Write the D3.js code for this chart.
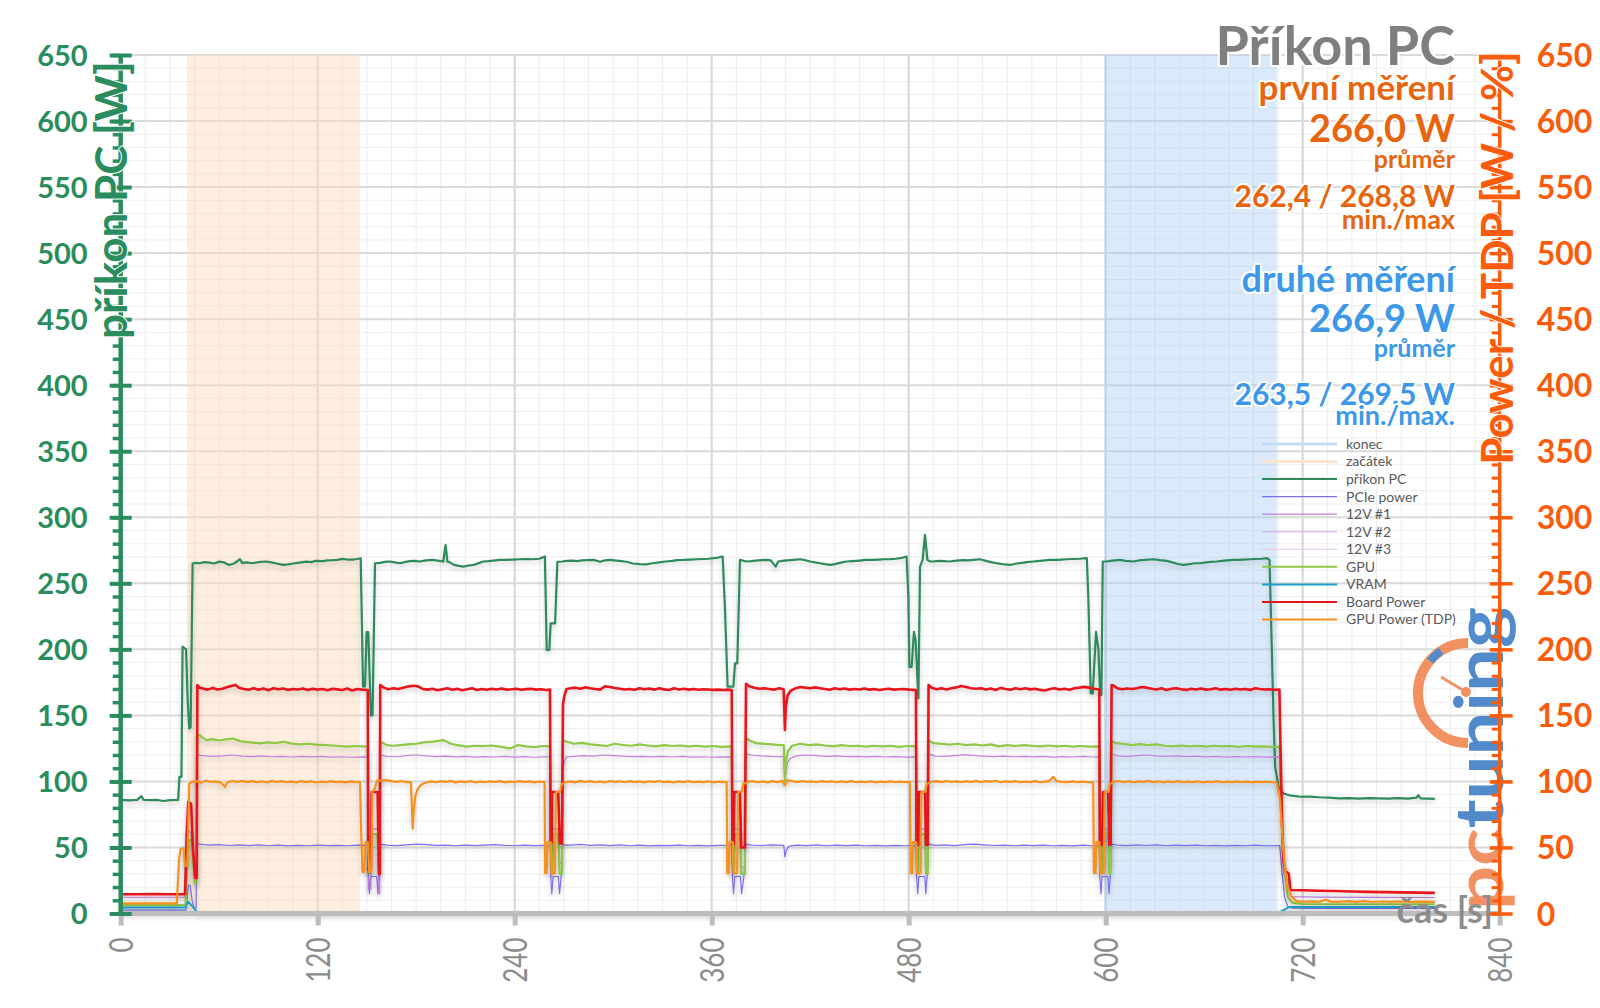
<!DOCTYPE html>
<html lang="cs">
<head>
<meta charset="UTF-8">
<title>Příkon PC</title>
<script src="https://cdn.jsdelivr.net/npm/d3@7"></script>
<style>
    body { margin: 0; background: #ffffff; }
    svg { font-family: Lato, "Open Sans", sans-serif; }
    .halo { paint-order: stroke; stroke: #ffffff; stroke-width: 4px; stroke-linejoin: round; }
</style>
</head>
<body>
<div id="main"></div>
<script>
// ---- data (time [s], value [W]) ----
const xTicks = [0, 120, 240, 360, 480, 600, 720, 840];
const yTicks = [0, 50, 100, 150, 200, 250, 300, 350, 400, 450, 500, 550, 600, 650];

const zacatek = [40.4, 145.8];   // first measurement window
const konec = [599, 704.3];      // second measurement window

const prikonPC = [
    [0,86],[5,85.6],[10,86],[12.5,88.8],[14,86],[18,85.8],[22,86],[26,85.2],[30,85.8],[35,86],[35.8,103.5],[37,103.5],[37.7,202],[39.8,200],[40.8,161],[41.8,140],[42.6,141],[43.8,265],
    [46,265.5],[48,265.2],[51,266],[54,265.7],[57,265],[60,266.4],[63,265.8],[66,263.9],[69,265],[72.7,268.2],[74,265.5],[77,265.8],[80,265.2],[84,266],[88,266.5],[91,266],[95,265],[99,263.9],[102,264.3],[106,265.2],[109,265.7],[113,266.4],[116,266],[119,267],[123,266.8],[126,267.4],[129,267.5],[132,267.8],[135,268.5],[138,268],[142,268],[144,268.4],[146.2,269],
    [147.6,171.7],[148.8,172],[149.8,213],[150.8,213],[152.4,150],[153.4,150],[154.9,265.2],
    [158,265.5],[161,266.2],[164,266.5],[167,265.8],[170,265.2],[173,266],[176,266.8],[179,267],[182,266.5],[186,267.4],[190,267.7],[193,267.2],[196.5,266.5],[197.9,279],[199,266.5],[201,265.5],[203,263.9],[206,263.2],[208.7,262.6],[212,263.5],[215,263.9],[218,265.3],[221,266.5],[224,266.8],[227,267.2],[231,267.7],[235,267.8],[239,268],[243,268.2],[247,268.4],[251,268.2],[255,268.6],[258.4,270.3],
    [259.5,199.5],[261.1,199.5],[261.9,219.6],[264.6,219.6],[266,266.3],
    [269,266.5],[272,267],[275,267.2],[278,266.8],[281,267.3],[284,267.5],[288,267.7],[292,266.3],[295,267.4],[298,267.7],[302,267.2],[305,266.8],[308,266.3],[312,265],[316,264.5],[320,264.4],[324,265.2],[328,265.8],[332,266.5],[336,267],[339,267.6],[343,267.7],[347,268],[351,268.2],[355,268.4],[358,268.6],[361,269],[364,269.5],[366.7,270.3],
    [368.1,230],[369.7,171.7],[373.2,171.7],[374.2,189.4],[375.6,189.4],[377.2,267.7],
    [381,266.5],[384,266.8],[387,267.2],[390,267.5],[393.5,267.7],[396,267.3],[399,262.6],[400.5,266.5],[403,267],[406,267.3],[409.7,267.7],[413.8,268.2],[417,267.5],[420,266.5],[423,265.8],[426,265.2],[429,264.5],[432,263.9],[435,264.5],[438,265.5],[442,266.5],[446,266.8],[450,267.2],[454,267.7],[458,267.8],[462,268],[465,268.2],[469,268.3],[472,268.6],[475,269],[478.7,270.3],
    [479.8,240],[480.4,186.7],[481.8,186.7],[483.2,213.3],[484.2,207],[485.9,162.8],[486.9,262.6],[488.5,267.7],[489.9,286.6],[491.4,267.7],[493,266.5],[495,266.5],
    [498,267],[501,266.8],[505,266.5],[509,267.2],[513,267.5],[516,267.3],[519.4,267.7],[523.5,268.2],[527,267],[530,266],[533.6,265.2],[537,264.5],[541.8,263.9],[545,264.8],[549,265.5],[552,266],[556,266.5],[560,267],[563,267.4],[566,267.7],[570,267.8],[573,268],[576,268.2],[580,268.4],[584,268.6],[588.5,269],
    [589.4,240],[590.9,166.7],[592.1,166.7],[594.1,213.3],[595.6,199.5],[596.6,165.5],[597.4,165.5],[598.2,266.5],
    [600.6,266.5],[604,267.2],[608.8,267.7],[612,267],[616.9,266.5],[620,267.3],[624,267.8],[629.1,268.2],[633,267.5],[637.2,267],[640,266],[644,264.6],[647.4,263.9],[651,264.5],[654,265.2],[657.5,265.2],[661,265.8],[664,266.2],[667.7,266.5],[671,267],[674,267.3],[677.8,267.7],[681,267.8],[684,268],[688,268.2],[691,268.4],[695,268.6],[698.2,269],[699.8,267.7],
    [701.2,199.5],[702.2,148.9],[703.2,111],[705.3,95.9],[708.3,90.9],[712,89.5],[718.5,88.4],[724,88.5],[730,88],[736,87.8],[742,87.2],[748,87.4],[754,87],[760,87.3],[766,87.1],[772,87],[778,87.3],[784,87],[789.4,87.7],[790.4,89.6],[791.8,87.1],[796,87],[800.5,86.8]
];

const boardPower = [
    [0,14.6],[10,14.6],[20,14.7],[30,14.6],[39.2,14.6],[40.2,60],[41.2,84.6],[42.9,83],[44,50],[45.3,27],[46.3,27],[46.7,173],
    [48,171],[50,170.4],[53,169.5],[56,170.8],[59,169.6],[62,170.2],[65,171.5],[68,172.5],[70,173],[72,171],[75,170],[78,169.4],[81,170.6],[84,169.5],[87,170.3],[90,169],[93,170.5],[96,169.8],[99,170.4],[102,169.3],[105,170],[108,169.6],[111,170.4],[114,169.2],[117,170.1],[120,169.5],[123,170],[126,169],[129,170.2],[132,169.7],[135,169.2],[138,170.3],[141,168.8],[144,170],[147,169.5],[150.5,169.2],
    [150.8,33],[152.4,33],[152.9,92],[156.5,92],[157.3,30],[157.8,30],[158.1,173],
    [160,171.2],[163,169.8],[166,170.5],[169,170],[172,171],[175,171.8],[178,172.5],[181,172],[184,170],[187,169.5],[190,170.2],[193,169],[196,169.8],[199,170.6],[202,169.4],[205,170.2],[208,169],[211,169.8],[214,170.5],[217,169.2],[220,170],[223,169.4],[226,170.2],[229,169.6],[232,170.4],[235,169.5],[238,169.8],[241,170.2],[244,169.4],[247,169.9],[250,170.1],[253,169.5],[256,169.8],[259,169.2],[261.5,169.5],
    [261.9,54],[262.5,54],[262.8,92],[266.5,92],[267.5,53],[268.8,53],[269.4,158],[270.3,165],[271.6,170],
    [274,170.5],[277,171],[280,170.2],[283,171.3],[286,170.5],[289,170],[292,169.5],[295,172],[298,171.5],[301,170.8],[304,170.2],[307,169.6],[310,170],[313,169.4],[316,170.6],[319,169.8],[322,170.4],[325,169.5],[328,170.6],[331,169.7],[334,169.2],[337,170.5],[340,169.6],[343,170.2],[346,169.5],[349,170],[352,169.4],[355,169.8],[358,169.6],[361,169.3],[364,169.5],[367,169.2],[370,169.5],[372.2,169.2],
    [372.6,52],[373.4,52],[373.8,92],[377.2,92],[378,50],[380.2,50],[380.9,174],
    [383,172],[386,171],[389,170.2],[392,170.5],[395,170],[398,169.4],[401,170.5],[403.8,169.8],[404.3,152],[404.6,139],[405.1,156],[406.2,165],[408,168.5],[411,170.5],[414,171.5],[417,171],[420,170.6],[423,171.2],[426,170.5],[429,170],[432,169.4],[435,170.5],[438,169.8],[441,170.3],[444,169.5],[447,170],[450,169.6],[453,170.4],[456,169.5],[459,170],[462,169.2],[465,169.8],[468,170.2],[471,169.5],[474,169.8],[477,170],[480,169.5],[484.4,169.2],
    [484.8,52],[485.8,52],[486.2,92],[490,92],[490.5,52],[491.6,52],[492.1,173],
    [494,171],[497,169.8],[500,170.5],[503,169.6],[506,170.6],[509,171.2],[512,172.3],[515,171.5],[518,170.6],[521,170.2],[524,170.5],[527,169.6],[530,170.4],[533,169.2],[536,170.8],[539,170],[542,169.4],[545,170.5],[548,169.8],[551,170.6],[554,169.7],[557,170.2],[560,169.3],[563,168.8],[566,170],[569,170.5],[572,169.6],[575,170.2],[578,169.4],[581,170.5],[584,171],[587,171.6],[590,171],[593,170.2],[596.1,169.6],
    [596.4,52],[597.8,52],[598.4,92],[601.5,92],[602.2,52],[603,52],[603.6,173],
    [605,172.5],[607,170.5],[610,169.8],[613,170.4],[616,170],[619,170.6],[622,171.5],[625,171],[628,170.2],[631,169.6],[634,170.5],[637,169.2],[640,170.2],[643,170.6],[646,169.8],[649,169.3],[652,170.2],[655,169.6],[658,170.4],[661,169.5],[664,169.8],[667,170.6],[670,169.5],[673,170],[676,169.4],[679,170.2],[682,169.6],[685,170],[688,169.3],[691,170.5],[694,170],[697,169.6],[700,169.8],[703,169.4],[705.8,169.6],
    [706.5,125],[707.5,65],[708.3,40.4],[709.5,32],[711.5,30.3],[712.5,17.8],[720,17.6],[730,17.2],[740,17],[750,16.7],[760,16.4],[770,16.2],[780,16],[790,15.8],[800.5,15.6]
];

const gpuPowerTdp = [
    [0,7.6],[10,7.6],[20,7.7],[30,7.6],[34.2,7.6],[35.5,40],[36.5,49.2],[38.2,49.2],[39.2,36],[40.5,36],[41.8,98.5],
    [43,99.5],[46,100.2],[49,99],[52,100.5],[55,99.6],[58,100],[61,99.2],[63.5,95.9],[65,99.5],[68,100.3],[71,99.6],[74,100.4],[77,99.5],[80,100.2],[83,99.4],[86,100.1],[89,99.3],[92,100.4],[95,99.6],[98,100.2],[101,99.4],[104,100],[107,99.2],[110,100.3],[113,99.5],[116,100.1],[119,99.2],[122,99.8],[125,99.4],[128,100.2],[131,99.5],[134,99.8],[137,99.3],[140,100],[143,99.5],[145.8,99.5],
    [146.5,60],[147.3,31.5],[148.3,31.5],[149.2,54],[150.6,54],[151.3,31.5],[152.6,31.5],[153.3,92],[155,95],[156,100.5],
    [159,100.8],[162,101],[165,100.2],[168,99.6],[171,100.3],[174,99.5],[176.8,99.4],[177.4,80],[177.9,64.4],[178.5,78],[179.5,89],[181,94.5],[183,97.5],[186,99.2],[189,100],[192,99.4],[195,100.2],[198,99.6],[201,100.4],[204,99.3],[207,100],[210,99.5],[213,100.3],[216,99.2],[219,99.8],[222,99.4],[225,100.1],[228,99.6],[231,100.2],[234,99.3],[237,99.9],[240,99.5],[243,100.2],[246,99.6],[249,100],[252,99.3],[255,99.8],[258.2,99.5],
    [258.5,30.5],[259.5,30.5],[259.9,54],[261.9,54],[262.4,30.5],[264.5,30.5],[265.1,92],[267.6,92],[268.6,97.8],
    [271,99.5],[274,100],[277,99.3],[280,100.4],[283,99.6],[286,100.2],[289,99.4],[292,100],[295,99.2],[298,100.3],[301,99.6],[304,100.1],[307,99.4],[310,100.2],[313,99.5],[316,100],[319,99.3],[322,100.1],[325,99.6],[328,100.3],[331,99.5],[334,99.9],[337,99.2],[340,100],[343,99.5],[346,100.2],[349,99.4],[352,99.9],[355,99.5],[358,100.1],[361,99.3],[364,99.8],[367,99.5],[369.1,99.4],
    [369.5,30.5],[370.5,30.5],[370.9,54],[372.9,54],[373.4,30.5],[375.5,30.5],[376.1,92],[378.2,92],[379.2,98],
    [382,99.6],[385,100.2],[388,99.4],[391,100],[394,99.3],[397,100.2],[400,99.5],[403,100.4],[404.6,97],[406,101],[409,100.2],[412,99.5],[415,100.3],[418,99.6],[421,100],[424,99.4],[427,100.2],[430,99.6],[433,100.1],[436,99.4],[439,100],[442,99.5],[445,100.2],[448,99.4],[451,99.9],[454,99.5],[457,100.1],[460,99.3],[463,99.8],[466,99.5],[469,100],[472,99.4],[475,99.8],[478,99.5],[480.8,99.4],
    [481.2,30.5],[482.2,30.5],[482.6,54],[484.6,54],[485.1,30.5],[487.2,30.5],[487.8,92],[490,92],[491,98],
    [494,99.8],[497,100.2],[500,99.5],[503,100.3],[506,99.6],[509,100],[512,99.4],[515,100.2],[518,99.6],[521,100.4],[524,99.5],[527,100.2],[530,99.8],[533,100.5],[536,99.4],[539,100],[542,99.6],[545,100.2],[548,99.4],[551,99.8],[554,99.5],[557,100.2],[560,99.4],[563,99.9],[565.5,100.2],[568,103.5],[570,100.4],[573,99.6],[577,99.5],[580,100],[583,99.4],[586,99.8],[589,99.5],[592.4,99.4],
    [592.8,30.5],[593.8,30.5],[594.2,54],[596.2,54],[596.7,30.5],[598.8,30.5],[599.4,92],[601.5,92],[602.5,98],
    [605,99.6],[608,100.3],[611,99.5],[614,100.2],[617,99.4],[620,100],[623,99.6],[626,100.4],[629,99.5],[632,100.1],[635,99.3],[638,100],[641,99.5],[644,100.2],[647,99.4],[650,99.9],[653,99.5],[656,100.1],[659,99.3],[662,99.8],[665,99.5],[668,100.2],[671,99.4],[674,99.9],[677,99.5],[680,100],[683,99.4],[686,99.8],[689,99.3],[692,99.9],[695,99.5],[698,99.8],[701,99.4],[704.1,99.3],
    [706.2,86],[708.2,48],[710.2,22.7],[713.3,12.6],[716,9.6],[720,8.9],[725,9.2],[730,8.8],[734,10.4],[737,9],[742,8.8],[748,9.3],[752,8.8],[758,9.4],[762,8.7],[768,9.1],[774,8.8],[780,9.2],[786,8.8],[792,9],[800.5,8.8]
];

const gpuCore = [
    [0,6.3],[20,6.3],[39.5,6.3],[40.4,30],[41.3,55.5],[43,55.5],[44.5,35],[45.3,22.7],[45.9,22.7],[46.6,135],
    [48.3,135],[50,133],[52.4,131.3],[56,132],[60,131],[64,131.8],[68.6,132.5],[72.7,130.5],[76,130],[80,129.4],[84.8,128.8],[89,129.5],[94,129],[99.1,130],[104,128.6],[109.2,128],[114,128.5],[119,127.8],[125.4,127.5],[131,127],[137.6,126.3],[143,126.8],[150.5,126.3],
    [150.9,55],[151.7,30],[152.9,60],[156.4,60],[157.2,30],[157.8,30],[158.2,130],
    [162,127.5],[166,127],[170.1,127.5],[175,128],[180,128.5],[185,129.5],[190.4,130.1],[196.5,131.3],[201,128.5],[205,127.5],[210.8,126.3],[216,127],[221,126.8],[226,127.2],[231,126.3],[237.1,125],[242,127.5],[247,126.5],[252,126],[257,126.8],[261.5,126.5],
    [261.9,53],[263,30],[263.4,60],[266.4,60],[267.4,30],[268.9,30],[269.4,131],
    [272,130],[276,128.5],[281,129.2],[286,128],[291,127.5],[296,126.8],[301,128.5],[306,127.6],[311,127],[316,128],[321,127.2],[326,126.5],[331,127.5],[336,126.8],[341,127.2],[346,126.5],[351,127],[356,126.4],[361,126.8],[366,126.2],[372.2,126.5],
    [372.6,53],[373.6,30],[374,60],[377.2,60],[378,30],[380.2,30],[380.9,133],
    [383,131],[387,129],[392,128.5],[397,128],[401,127.5],[403.9,127.5],[404.6,99.7],[405.2,115],[406.5,123],[409,127],[414,128.5],[419,127.5],[424,128],[429,127.2],[434,126.5],[439,127.5],[444,126.8],[449,127],[454,126.3],[459,127],[464,126.5],[469,127],[474,126.2],[479,126.8],[484.4,126.5],
    [484.8,53],[485.8,30],[486.2,60],[490,60],[490.5,30],[491.6,30],[492.1,131],
    [495,129],[500,128.5],[505,127.8],[510,128.5],[515,127.5],[520,128],[525,127.2],[530,128],[535,126.5],[540,127.5],[545,126.8],[550,127.5],[555,127],[560,126.5],[565,127.2],[570,126.5],[575,127],[580,126.4],[585,126.8],[590,126.4],[596.1,126.5],
    [596.4,53],[597.8,30],[598.4,60],[601.5,60],[602.2,30],[603,30],[603.6,131],
    [606,129],[611,128.5],[616,127.5],[621,128.2],[626,127.5],[631,128],[636,127],[641,126.5],[646,127.2],[651,126.5],[656,127],[661,126.3],[666,127],[671,126.5],[676,126.8],[681,126.2],[686,126.8],[691,126.3],[696,126.6],[701,126.2],[706,126.2],
    [707.5,70],[709,30],[711,12],[714,8],[720,7.2],[740,7],[760,7],[780,7],[800.5,7]
];

const v12_1 = [
    [0,12.3],[20,12.3],[39.2,12.3],[40.2,45],[41.2,63],[42.9,61],[44,40],[45.3,23],[46.3,23],[46.7,120],
    [50,119.5],[56,119],[62,119.4],[68,120],[74,119.2],[80,118.8],[86,119.3],[92,118.7],[98,119],[104,118.5],[110,119],[116,118.6],[122,118.9],[128,118.4],[134,118.7],[140,118.3],[146,118.6],[150.5,118.4],
    [150.8,18],[152.4,18],[152.9,64],[156.5,64],[157.3,15],[157.8,15],[158.1,120],
    [162,119],[168,118.7],[174,119.5],[180,120.2],[186,119.4],[192,118.8],[198,119.2],[204,118.6],[210,118.9],[216,118.4],[222,118.8],[228,118.5],[234,118.9],[240,118.4],[246,118.8],[252,118.3],[258,118.6],[261.5,118.5],
    [261.9,38],[262.5,38],[262.8,64],[266.5,64],[267.5,38],[268.8,38],[269.4,110],[270.3,115],[271.6,118.5],
    [276,119],[282,119.5],[288,119.2],[294,120],[300,119.6],[306,119.2],[312,118.8],[318,119],[324,118.6],[330,119],[336,118.5],[342,118.9],[348,118.4],[354,118.7],[360,118.3],[366,118.6],[372.2,118.4],
    [372.6,37],[373.4,37],[373.8,64],[377.2,64],[378,35],[380.2,35],[380.9,121],
    [384,120],[390,119.4],[396,119],[403.8,118.8],[404.6,100],[406,114],[408,117.5],[412,119.5],[418,120],[424,119.5],[430,119],[436,119.3],[442,118.8],[448,119],[454,118.6],[460,118.9],[466,118.5],[472,118.8],[478,118.4],[484.4,118.6],
    [484.8,37],[485.8,37],[486.2,64],[490,64],[490.5,37],[491.6,37],[492.1,121],
    [496,119.2],[502,119],[508,119.6],[514,120.3],[520,119.6],[526,119.2],[532,118.8],[538,119.1],[544,118.7],[550,119],[556,118.6],[562,118.9],[568,118.4],[574,118.8],[580,118.5],[586,118.9],[592,118.5],[596.1,118.6],
    [596.4,37],[597.8,37],[598.4,64],[601.5,64],[602.2,37],[603,37],[603.6,121],
    [607,119.4],[613,119],[619,119.6],[625,120],[631,119.4],[637,119],[643,119.3],[649,118.8],[655,119.1],[661,118.6],[667,118.9],[673,118.4],[679,118.8],[685,118.5],[691,118.8],[697,118.4],[703,118.6],[705.8,118.4],
    [706.5,90],[707.5,48],[708.3,30],[711.5,24],[712.5,12.8],[730,12.4],[760,12.2],[800.5,12.1]
];

const v12_2 = [[0,0.3],[400,0.3],[800.5,0.3]];
const v12_3 = [[0,0.2],[400,0.2],[800.5,0.2]];

const pciePower = [
    [0,2.6],[20,2.6],[39.7,2.6],[41.2,21.4],[42.3,21.4],[43.5,10],[44.7,4],[45.9,4],[46.4,53],
    [48,52.5],[54,51.8],[60,52.2],[66,51.5],[72,52],[78,51.4],[84,51.9],[90,51.3],[96,51.7],[102,51.2],[108,51.6],[114,51.3],[120,51.8],[126,51.4],[132,51.6],[138,51.3],[144,51.8],[150.5,51.6],
    [150.9,28],[151.5,15],[152.2,28],[156,28],[156.7,15],[157.4,28],[158.1,52.5],
    [162,51.8],[168,51.4],[174,52],[180,52.6],[186,52.2],[192,51.6],[198,51.8],[204,51.3],[210,51.7],[216,51.4],[222,51.8],[228,52.2],[234,51.6],[240,51.3],[246,51.8],[252,51.4],[258,51.6],[261.7,51.5],
    [262,28],[262.6,15],[263.4,28],[266.6,28],[267.3,15],[268.3,28],[269.3,52],
    [274,51.8],[280,52.3],[286,51.6],[292,52],[298,51.4],[304,51.9],[310,51.3],[316,51.7],[322,51.2],[328,51.6],[334,51.4],[340,51.8],[346,51.3],[352,51.6],[358,51.2],[364,51.6],[372.3,51.5],
    [372.6,28],[373.3,15],[374,28],[377.5,28],[378.2,15],[379.6,28],[380.9,52.5],
    [384,51.8],[390,51.5],[396,51.9],[403.9,51.6],[404.6,42.9],[405.5,48],[407,51],[412,51.8],[418,51.4],[424,51.9],[430,51.3],[436,51.7],[442,51.4],[448,51.8],[454,51.3],[460,51.6],[466,51.2],[472,51.6],[478,51.3],[484.4,51.5],
    [484.8,28],[485.5,15],[486.2,28],[489.8,28],[490.4,15],[491.2,28],[492.1,52.5],
    [496,51.6],[502,52],[508,51.4],[514,52.1],[520,52.6],[526,52],[532,51.5],[538,51.8],[544,51.3],[550,51.7],[556,51.4],[562,51.8],[568,51.3],[574,51.6],[580,51.2],[586,51.7],[592,51.3],[596.1,51.5],
    [596.4,28],[597.1,15],[597.8,28],[601.4,28],[602,15],[602.8,28],[603.6,52.5],
    [607,51.8],[613,51.4],[619,52],[625,51.5],[631,51.9],[637,51.3],[643,51.7],[649,51.4],[655,51.8],[661,51.3],[667,51.6],[673,51.2],[679,51.6],[685,51.3],[691,51.7],[697,51.3],[703,51.5],[706,51.4],
    [707.5,30],[709,12],[711,5],[714,4],[730,3.8],[760,3.8],[800.5,3.8]
];

const vram = [[0,4.6],[39.5,4.6],[41,9],[44,5],[46.5,1],[706,1],[709,3],[712,5],[800.5,5]];

// legend labels
const legendNames = ['konec', 'začátek', 'příkon PC', 'PCIe power', '12V #1', '12V #2', '12V #3', 'GPU', 'VRAM', 'Board Power', 'GPU Power (TDP)'];

// annotation texts
const titleText = 'Příkon PC';
const firstRun = ['první měření', '266,0 W', 'průměr', '262,4 / 268,8 W', 'min./max'];
const secondRun = ['druhé měření', '266,9 W', 'průměr', '263,5 / 269,5 W', 'min./max.'];

// ---- drawing ----
const W = 1600, H = 1008;
const GREEN = '#2b8c5e', ORANGE_AX = '#fa5c0c', TXT_OR = '#e8650f', TXT_BL = '#3d98ea', GRAY = '#8c8c8c';

const svg = d3.select('#main').append('svg').attr('width', W).attr('height', H);

const x = d3.scaleLinear().domain([0, 840]).range([120.7, 1499.7]);
const y = d3.scaleLinear().domain([0, 650]).range([913.5, 55]);

svg.append('defs').append('filter')
    .attr('id', 'shadow').attr('filterUnits', 'userSpaceOnUse')
    .attr('x', 0).attr('y', 0).attr('width', W).attr('height', H)
    .append('feDropShadow')
    .attr('dx', 0).attr('dy', 3).attr('stdDeviation', 2.5)
    .attr('flood-color', '#000').attr('flood-opacity', 0.2);

// grid
const grid = svg.append('g');
const minorX = d3.range(0, 841, 15).filter(t => t % 120 !== 0);
const minorY = d3.range(0, 651, 10).filter(v => v % 50 !== 0);

grid.selectAll('.vmin').data(minorX).join('line')
    .attr('x1', d => x(d)).attr('x2', d => x(d)).attr('y1', y(650)).attr('y2', y(0))
    .attr('stroke', '#ececec').attr('stroke-width', 1);
grid.selectAll('.hmin').data(minorY).join('line')
    .attr('y1', d => y(d)).attr('y2', d => y(d)).attr('x1', x(0)).attr('x2', x(840))
    .attr('stroke', '#eeeeee').attr('stroke-width', 1);
grid.selectAll('.vmaj').data(xTicks).join('line')
    .attr('x1', d => x(d)).attr('x2', d => x(d)).attr('y1', y(650)).attr('y2', y(0))
    .attr('stroke', '#d6d6d6').attr('stroke-width', 2);
grid.selectAll('.hmaj').data(yTicks).join('line')
    .attr('y1', d => y(d)).attr('y2', d => y(d)).attr('x1', x(0)).attr('x2', x(840))
    .attr('stroke', '#dadada').attr('stroke-width', 2);

// measurement windows
svg.append('rect')
    .attr('x', x(zacatek[0])).attr('width', x(zacatek[1]) - x(zacatek[0]))
    .attr('y', y(650)).attr('height', y(0) - y(650))
    .attr('fill', '#fbd9b8').attr('opacity', 0.45);
svg.append('rect')
    .attr('x', x(konec[0])).attr('width', x(konec[1]) - x(konec[0]))
    .attr('y', y(650)).attr('height', y(0) - y(650))
    .attr('fill', '#a9cdf2').attr('opacity', 0.42);

// logo watermark
const logo = svg.append('g').attr('opacity', 0.85);
logo.append('path')
    .attr('d', 'M1468,643 A50,50 0 0 0 1468,743')
    .attr('fill', 'none').attr('stroke', '#f08048').attr('stroke-width', 10);
logo.append('path')
    .attr('d', 'M1430,661 A50,50 0 0 1 1441,651')
    .attr('fill', 'none').attr('stroke', '#3577c4').attr('stroke-width', 8);
logo.append('line')
    .attr('x1', 1441).attr('y1', 677).attr('x2', 1466).attr('y2', 692)
    .attr('stroke', '#f08048').attr('stroke-width', 3);
logo.append('circle').attr('cx', 1466).attr('cy', 692).attr('r', 5).attr('fill', '#f08048');
const logoText = logo.append('text')
    .attr('transform', 'translate(1503,910) rotate(-90)')
    .attr('textLength', 303).attr('lengthAdjust', 'spacingAndGlyphs')
    .style('font-size', '66px').style('font-weight', 700);
logoText.append('tspan').attr('fill', '#f08048').text('pc');
logoText.append('tspan').attr('fill', '#3577c4').text('tuning');

// series
const line = d3.line().x(d => x(d[0])).y(d => y(d[1]));
const series = [
    {data: prikonPC, color: '#2f8a5c', w: 2.2},
    {data: pciePower, color: '#7c6ef0', w: 1.2},
    {data: v12_1, color: '#c27fde', w: 1.2},
    {data: v12_2, color: '#d6a0ec', w: 1},
    {data: v12_3, color: '#e6c4f4', w: 1},
    {data: gpuCore, color: '#8fc747', w: 2.2},
    {data: vram, color: '#1aa0c8', w: 2},
    {data: boardPower, color: '#e8141c', w: 2.6},
    {data: gpuPowerTdp, color: '#f7901e', w: 2.2}
];
svg.append('g').selectAll('path').data(series).join('path')
    .attr('d', d => line(d.data))
    .attr('fill', 'none')
    .attr('stroke', d => d.color)
    .attr('stroke-width', d => d.w)
    .attr('stroke-linejoin', 'round')
    .attr('filter', 'url(#shadow)');

// legend
const legendColors = ['#c6dcf3', '#fbe3cd', '#2f8a5c', '#7c6ef0', '#c27fde', '#d6a0ec', '#e6c4f4', '#8fc747', '#1aa0c8', '#e8141c', '#f7901e'];
const legendWidths = [3, 3, 2, 1.2, 1.2, 1, 1, 2, 2, 2, 2];
const lg = svg.append('g').selectAll('g').data(legendNames).join('g')
    .attr('transform', (d, i) => `translate(1262,${444 + i * 17.55})`);
lg.append('line').attr('x1', 0).attr('x2', 75)
    .attr('stroke', (d, i) => legendColors[i]).attr('stroke-width', (d, i) => legendWidths[i]);
lg.append('text').attr('x', 84).attr('dy', '0.35em')
    .attr('fill', '#595959').style('font-size', '14px').text(d => d);

// bottom axis
const gB = svg.append('g').attr('transform', `translate(0,${y(0)})`);
gB.append('line').attr('x1', x(0)).attr('x2', x(840))
    .attr('stroke', '#bdbdbd').attr('stroke-width', 5);
gB.append('g').call(d3.axisBottom(x).tickValues(xTicks).tickSize(12))
    .call(g => {
        g.select('.domain').remove();
        g.selectAll('line').attr('stroke', '#bdbdbd').attr('stroke-width', 5);
        g.selectAll('text')
            .attr('y', 0).attr('dy', null)
            .attr('text-anchor', 'end')
            .attr('transform', 'translate(12,24) rotate(-90) scale(1,1.28)')
            .attr('fill', GRAY)
            .style('font-family', 'Lato, sans-serif')
            .style('font-size', '26px');
    });

svg.append('text')
    .attr('x', 1493).attr('y', 923).attr('text-anchor', 'end')
    .attr('fill', GRAY).style('font-size', '36px').style('font-weight', 700)
    .text('čas [s]');

// left axis
const gL = svg.append('g').attr('transform', `translate(${x(0)},0)`);
gL.append('g').call(d3.axisLeft(y).tickValues(d3.range(0, 651, 10)).tickSize(8).tickFormat(''))
    .call(g => {
        g.select('.domain').remove();
        g.selectAll('line').attr('stroke', GREEN).attr('stroke-width', 3.5);
    });
gL.append('g').call(d3.axisLeft(y).tickValues(yTicks).tickSize(11).tickPadding(22))
    .call(g => {
        g.select('.domain').remove();
        g.selectAll('line').attr('x1', 11).attr('stroke', GREEN).attr('stroke-width', 4);
        g.selectAll('text').attr('fill', GREEN).attr('dy', '0.36em')
            .style('font-family', 'Lato, sans-serif').style('font-size', '29px').style('font-weight', 700);
    });
gL.append('line').attr('y1', y(650)).attr('y2', y(0) + 2)
    .attr('stroke', GREEN).attr('stroke-width', 4.5);

// right axis
const gR = svg.append('g').attr('transform', `translate(${x(840)},0)`);
gR.append('g').call(d3.axisLeft(y).tickValues(d3.range(0, 651, 10)).tickSize(8).tickFormat(''))
    .call(g => {
        g.select('.domain').remove();
        g.selectAll('line').attr('stroke', ORANGE_AX).attr('stroke-width', 3);
    });
gR.append('g').call(d3.axisRight(y).tickValues(yTicks).tickSize(13).tickPadding(24))
    .call(g => {
        g.select('.domain').remove();
        g.selectAll('line').attr('x1', -10).attr('stroke', ORANGE_AX).attr('stroke-width', 3.5);
        g.selectAll('text').attr('fill', ORANGE_AX).attr('dy', '0.36em')
            .style('font-family', 'Lato, sans-serif').style('font-size', '32px').style('font-weight', 700);
    });
gR.append('line').attr('y1', y(650)).attr('y2', y(0) + 2)
    .attr('stroke', ORANGE_AX).attr('stroke-width', 3.5);

// axis titles
svg.append('text')
    .attr('transform', 'translate(127,200) rotate(-90)')
    .attr('text-anchor', 'middle').attr('class', 'halo')
    .attr('fill', GREEN).style('font-size', '44px').style('font-weight', 700)
    .style('stroke-width', '2px')
    .text('příkon PC [W]');
svg.append('text')
    .attr('transform', 'translate(1513,258) rotate(-90)')
    .attr('text-anchor', 'middle').attr('class', 'halo')
    .attr('fill', ORANGE_AX).style('font-size', '44px').style('font-weight', 700)
    .style('stroke-width', '2px')
    .text('Power / TDP [W / %]');

// summary text block
const ann = svg.append('g').attr('text-anchor', 'end').style('font-weight', 700);
ann.append('text').attr('class', 'halo').attr('x', 1455).attr('y', 65)
    .attr('fill', '#7f7f7f').style('font-size', '54px').text(titleText);
const firstSizes = [35, 38, 25, 30, 27];
const secondSizes = [36, 38, 25, 30, 27];
const firstBase = [100, 142, 168, 207, 229];
const secondBase = [292, 332, 357, 405, 425];
ann.selectAll('.r1').data(firstRun).join('text').attr('class', 'halo')
    .attr('x', 1455).attr('y', (d, i) => firstBase[i])
    .attr('fill', TXT_OR).style('font-size', (d, i) => firstSizes[i] + 'px').text(d => d);
ann.selectAll('.r2').data(secondRun).join('text').attr('class', 'halo')
    .attr('x', 1455).attr('y', (d, i) => secondBase[i])
    .attr('fill', TXT_BL).style('font-size', (d, i) => secondSizes[i] + 'px').text(d => d);
</script>
</body>
</html>
